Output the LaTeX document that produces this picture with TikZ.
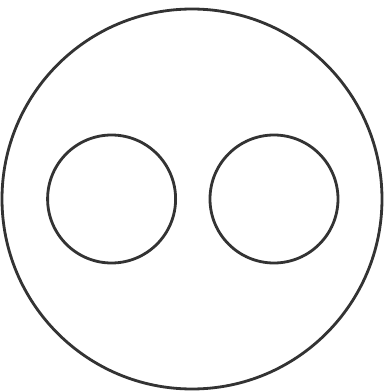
\documentclass[tikz,border=0pt]{standalone}
\usetikzlibrary{positioning}
\definecolor{ringgray}{HTML}{333333}
\tikzset{ring/.style={circle,draw=ringgray,line width=2pt,inner sep=0pt}}

\begin{document}
\begin{tikzpicture}
\useasboundingbox[fill=white] (0,0) rectangle (9.6,9.8);
\node[ring,minimum size=9.5cm] (outer) at (4.8,4.825) {};
\node[ring,minimum size=3.2cm] (lefthole) at (2.79,4.825) {};
\node[ring,minimum size=3.2cm] (righthole) at (6.85,4.825) {};
\end{tikzpicture}
\end{document}
